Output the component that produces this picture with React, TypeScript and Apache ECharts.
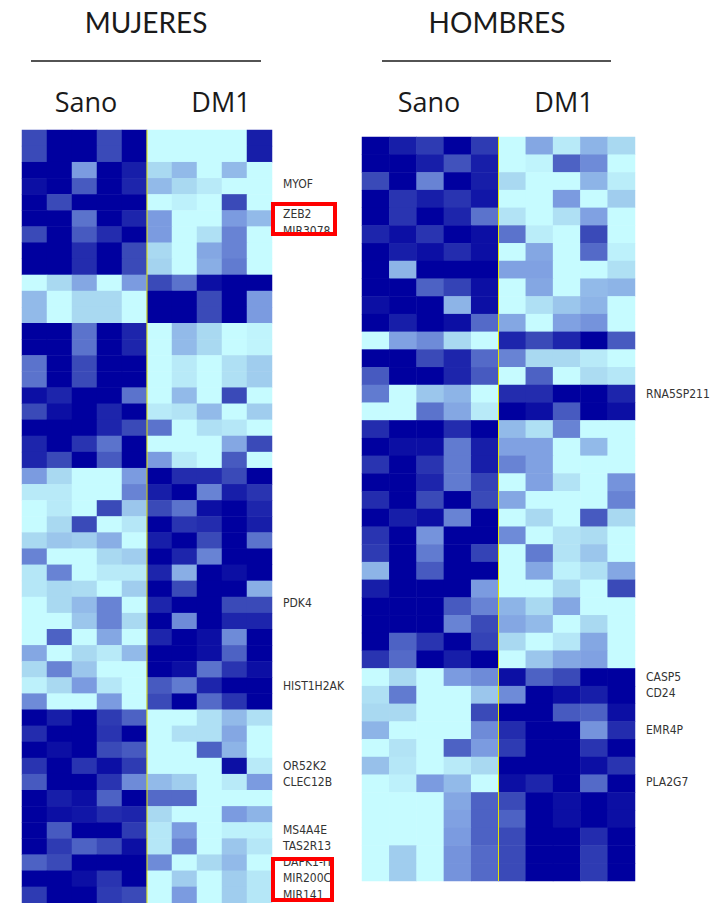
import React, { useEffect, useRef } from 'react';
import * as echarts from 'echarts';

// Column categories (5 healthy "Sano" samples + 5 DM1 samples)
const columns = ['S1', 'S2', 'S3', 'S4', 'S5', 'D1', 'D2', 'D3', 'D4', 'D5'];

// MUJERES heatmap, 48 genes (rows, top to bottom), values 0 (light) .. 4 (dark)
const mujeresSano = [
  [3, 4, 4, 3, 4], [3, 4, 4, 3, 4], [4, 4, 2, 4, 3.6], [3.8, 4, 2.8, 4, 3.5],
  [4, 3, 4, 4, 4], [4, 4, 2.5, 4, 3.5], [3, 4, 2.8, 3.4, 4], [4, 4, 3.4, 4, 3],
  [4, 4, 3.4, 4, 3], [0, 1, 1.8, 0, 2], [1.5, 0, 1, 1, 0], [1.5, 0, 1, 1, 0],
  [4, 4, 2.5, 4, 3.5], [4, 4, 2.5, 4, 3.5], [2.5, 4, 3, 4, 4], [2.5, 4, 3, 4, 4],
  [3.8, 3.5, 4, 4, 2.5], [3, 3.8, 4, 3.5, 4], [4, 4, 4, 3.5, 3], [3.5, 4, 3.3, 2.5, 4],
  [3.5, 3, 4, 2.8, 4], [2, 1, 0, 0, 2], [0.5, 0.5, 0, 0, 2.3], [0, 0.5, 0, 3, 1.3],
  [0, 1, 3, 0, 0.6], [1, 1.3, 1.2, 1.7, 0], [2.3, 0, 0, 1, 1.2], [0.6, 2.3, 0, 0.5, 0.5],
  [0.6, 1, 0.9, 0, 1.2], [0, 1, 1.5, 2.3, 0], [0, 0, 1.3, 2.3, 1], [0, 2.7, 0, 1.8, 0],
  [1.8, 0, 1, 0.5, 1.5], [1, 2.3, 1.3, 0, 0], [0.3, 1, 2, 0.6, 0], [2.2, 0, 0, 2, 0],
  [4, 3.6, 4, 3.2, 2.7], [3.4, 4, 4, 3.3, 4], [4, 3.8, 4, 3, 2.8], [3.3, 4, 3.3, 3.8, 3.2],
  [2.8, 4, 4, 3.3, 2.2], [4, 3.6, 3.8, 2.7, 4], [4, 3.8, 3.7, 3.4, 3.5], [4, 2.8, 4, 4, 3.2],
  [4, 3.2, 2.7, 3, 3.8], [2.7, 3, 4, 4, 4], [4, 4, 3.8, 3.3, 4], [3.2, 4, 4, 3.2, 3],
];
const mujeresDM1 = [
  [0, 0, 0, 0, 3.6], [0, 0, 0, 0, 3.6], [1, 1.5, 0, 1.5, 0], [1.5, 1, 0.5, 0, 0],
  [0, 0.3, 0, 3, 0], [2, 0, 0, 2, 1.5], [2, 0, 0.8, 2.3, 0], [1, 0, 1.8, 2.3, 0],
  [1.1, 0, 1.7, 2.4, 0], [3, 2.5, 3.8, 4, 4], [4, 4, 3, 4, 2], [4, 4, 3, 4, 2],
  [0, 1.5, 1, 0, 0.2], [0, 1.5, 1, 0, 0.2], [0, 0.5, 0, 0.8, 1.2], [0, 0.5, 0, 0.8, 1.2],
  [0, 1.5, 0, 3, 0], [0.5, 0.7, 1.5, 0, 1.2], [2.5, 0, 0.8, 0.6, 0], [0, 0, 0, 1.8, 3],
  [2, 0.5, 0, 2.8, 0], [4, 3.4, 3.4, 3, 4], [3.6, 4, 2.3, 3.6, 3.3], [3, 2.5, 3.8, 4, 3.5],
  [4, 3.3, 3.4, 4, 3.6], [3.6, 4, 3, 4, 2.5], [4, 3.5, 2.3, 4, 4], [3.5, 1.7, 4, 3.8, 4],
  [4, 3, 4, 4, 1.7], [3.5, 4, 4, 3, 3], [4, 2.2, 4, 3.5, 3.5], [3.5, 4, 3.8, 2.2, 4],
  [4, 4, 3.8, 2.7, 4], [4, 3.8, 2.5, 3.3, 3.8], [2.8, 2.4, 3.5, 4, 4], [3, 4, 2.6, 3.3, 4],
  [0, 0, 0.8, 1.5, 0.8], [0, 0.8, 0.8, 1.8, 0], [0, 0, 2.7, 1.6, 0], [0, 0, 0, 3.8, 0.5],
  [1.5, 1.2, 0, 0.5, 2], [2.6, 2.6, 0, 0, 0], [1, 0, 0, 2, 1.6], [0.6, 2, 0, 0.3, 0.3],
  [0.6, 2.3, 0, 1.3, 0.6], [2.2, 0, 1, 1.5, 0], [0, 1.2, 0, 1.2, 0.6], [0, 2, 0, 1.2, 0.6],
];

// HOMBRES heatmap, 42 genes
const hombresSano = [
  [4, 3.6, 3.2, 4, 3.2], [4, 4, 3.6, 2.9, 3.6], [3, 4, 2.3, 4, 3.6], [4, 3.3, 3.6, 3.3, 3.7],
  [4, 3.3, 4, 3.5, 2.5], [3.5, 3.8, 3.3, 4, 3.8], [4, 3.6, 3.8, 3.4, 3.8], [4, 1.6, 4, 4, 4],
  [4, 4, 2.7, 3.1, 3.8], [3.8, 4, 4, 1.6, 3.8], [4, 3.6, 4, 3.8, 2.6], [0, 1.9, 2.2, 1, 0],
  [4, 4, 3, 3.5, 2.6], [2.8, 4, 4, 3.5, 2.8], [2.4, 0, 1.3, 1.6, 0], [0, 0, 2.5, 1.8, 0.5],
  [3.4, 4, 4, 3.4, 4], [4, 3.8, 3.8, 2.4, 3.6], [3.3, 4, 3.3, 2.4, 3.6], [4, 4, 3.5, 2.4, 3.1],
  [3.4, 4, 3, 4, 3], [4, 3.6, 3.8, 2.3, 4], [3.3, 4, 2.1, 4, 4], [3.2, 4, 2.4, 4, 3.1],
  [1.6, 4, 2.8, 4, 4], [3.6, 4, 4, 4, 2], [4, 4, 4, 2.8, 2.3], [4, 4, 4, 2.3, 3],
  [4, 2.7, 3.3, 4, 3.1], [3.3, 2.6, 4, 3.6, 4], [0, 1, 0, 2, 2.2], [0.8, 2.4, 0, 0, 1.3],
  [1, 1, 0, 0, 3], [1.6, 0, 0, 0, 2.2], [0, 0.7, 0, 2.7, 2], [1.4, 0.6, 0, 0.5, 1],
  [0, 0.3, 2, 1.5, 0], [0, 0, 0, 1.8, 2.7], [0, 0, 0, 1.9, 2.7], [0, 0, 0, 2, 2.7],
  [0, 1.2, 0, 2.1, 2.6], [0, 1.2, 0, 2.1, 2.6],
];
const hombresDM1 = [
  [0, 1.8, 0.5, 1.6, 1], [0, 0.2, 2.7, 2.2, 0], [1, 0, 0, 1.6, 0.4], [0, 0, 2, 0, 1.2],
  [0.7, 0, 0.8, 1.9, 0], [2.5, 0.4, 0, 3, 0], [0, 1.8, 0, 2.6, 0.3], [1.9, 1.9, 0, 0, 0.8],
  [0, 1.8, 0, 1.5, 1.6], [0, 0.8, 1.3, 1.6, 0], [1.8, 0, 1.9, 2.1, 0], [3.5, 3, 3.5, 4, 2.8],
  [2.3, 1, 1, 0.5, 0], [0, 2.7, 0, 0.9, 0.6], [3.4, 3.4, 4, 4, 3.5], [4, 3.8, 2.8, 4, 3.8],
  [1.5, 0.8, 2.3, 0, 0], [1.9, 1.9, 0, 1.5, 0], [2.3, 1.9, 0, 0, 0], [0, 1.9, 0.7, 0, 2.1],
  [1.8, 0, 0, 0, 2.3], [0, 1, 0, 2.8, 1], [2.2, 0, 0.7, 0.9, 0], [0, 2.4, 0.7, 1.3, 0],
  [0, 1.8, 0.3, 0.8, 1.8], [0, 0, 1, 0, 3], [1.6, 1, 1.8, 0, 0], [1.8, 1.5, 0, 1, 0],
  [1, 0, 0.6, 1.8, 0], [0, 1.3, 1.8, 1.9, 0], [3.8, 2.7, 3, 4, 4], [2.2, 4, 3.8, 3.6, 4],
  [4, 4, 2.8, 2.7, 3.8], [3.4, 4, 4, 2.1, 3.4], [3.2, 4, 4, 3.3, 4], [4, 4, 4, 3.8, 3.3],
  [3.8, 3.5, 4, 2.6, 4], [3, 4, 3.8, 4, 3.8], [2.7, 4, 3.8, 4, 3.8], [3, 4, 4, 3.4, 4],
  [3, 4, 4, 3.2, 4], [3, 4, 4, 3.2, 4],
];

// Gene labels
const mujeresGenes = ['MYOF', 'ZEB2', 'MIR3078', 'PDK4', 'HIST1H2AK', 'OR52K2', 'CLEC12B', 'MS4A4E', 'TAS2R13', 'DAPK1-IT', 'MIR200C', 'MIR141'];
const hombresGenes = ['RNA5SP211', 'CASP5', 'CD24', 'EMR4P', 'PLA2G7'];
const panelTitles = ['MUJERES', 'HOMBRES'];
const groupNames = ['Sano', 'DM1'];

// ---- layout (pixels) ----
const GRIDS = [
  { left: 22, top: 130, width: 250, height: 773 },
  { left: 362, top: 137, width: 273, height: 744 },
];
const mujeresLabelY = [184, 214, 231, 603, 686, 766, 782, 830, 846, 862, 878, 895];
const hombresLabelY = [394, 677, 693, 730, 782];
const palette = ['#c6fbff', '#a9d9f1', '#7b9be0', '#3a4ab8', '#00009f'];

function toCells(sano: number[][], dm1: number[][]) {
  const out: number[][] = [];
  sano.forEach((row, r) => {
    const full = row.concat(dm1[r]);
    full.forEach((v, c) => out.push([c, r, v]));
  });
  return out;
}

export default function App() {
  const ref = useRef<HTMLDivElement>(null);
  useEffect(() => {
    if (!ref.current) return;
    const chart = echarts.init(ref.current, null, { renderer: 'svg' });
    const rowsM = mujeresSano.map((_, i) => 'm' + i);
    const rowsH = hombresSano.map((_, i) => 'h' + i);
    const capsFont = 'Lato, "Open Sans", sans-serif';
    const titleFont = '"Open Sans", "Noto Sans", sans-serif';
    const labelFont = '"Liberation Sans Narrow", "DejaVu Sans Condensed", "Liberation Sans", sans-serif';

    const graphics: any[] = [];
    const headerCx = [146, 497];
    const lineSpan = [[31, 261], [382, 611]];
    const groupCx = [[86, 221], [429, 564]];
    panelTitles.forEach((t, i) => {
      graphics.push({
        type: 'text', x: headerCx[i], y: 22,
        style: { text: t, fontSize: 28, fontFamily: capsFont, fontWeight: 'normal', fill: '#1a1a1a', align: 'center', verticalAlign: 'middle' },
      });
      graphics.push({
        type: 'line', shape: { x1: lineSpan[i][0], y1: 61, x2: lineSpan[i][1], y2: 61 },
        style: { stroke: '#1a1a1a', lineWidth: 1.3 },
      });
      groupNames.forEach((g, j) => {
        graphics.push({
          type: 'text', x: groupCx[i][j], y: 101,
          style: { text: g, fontSize: 27, fontFamily: titleFont, fill: '#1a1a1a', align: 'center', verticalAlign: 'middle' },
        });
      });
    });
    mujeresGenes.forEach((g, i) => {
      graphics.push({
        type: 'text', x: 283, y: mujeresLabelY[i], z: 10,
        style: { text: g, fontSize: 12, fontFamily: labelFont, fill: '#333333', align: 'left', verticalAlign: 'middle' },
      });
    });
    hombresGenes.forEach((g, i) => {
      graphics.push({
        type: 'text', x: 646, y: hombresLabelY[i], z: 10,
        style: { text: g, fontSize: 12, fontFamily: labelFont, fill: '#333333', align: 'left', verticalAlign: 'middle' },
      });
    });
    graphics.push({
      type: 'rect', z: 50, shape: { x: 273, y: 204, width: 62, height: 30 },
      style: { fill: 'none', stroke: '#ff0000', lineWidth: 4 },
    });
    graphics.push({
      type: 'rect', z: 50, shape: { x: 273, y: 859, width: 59, height: 41 },
      style: { fill: 'none', stroke: '#ff0000', lineWidth: 4 },
    });

    chart.setOption({
      animation: false,
      backgroundColor: '#ffffff',
      grid: GRIDS.map((g) => ({ ...g, containLabel: false })),
      xAxis: [0, 1].map((i) => ({ type: 'category', data: columns, gridIndex: i, show: false })),
      yAxis: [
        { type: 'category', data: rowsM, gridIndex: 0, inverse: true, show: false },
        { type: 'category', data: rowsH, gridIndex: 1, inverse: true, show: false },
      ],
      visualMap: {
        show: false, type: 'continuous', min: 0, max: 4, dimension: 2, seriesIndex: [0, 1],
        inRange: { color: palette },
      },
      series: [
        { type: 'heatmap', xAxisIndex: 0, yAxisIndex: 0, data: toCells(mujeresSano, mujeresDM1), itemStyle: { borderWidth: 0 }, emphasis: { disabled: true } },
        { type: 'heatmap', xAxisIndex: 1, yAxisIndex: 1, data: toCells(hombresSano, hombresDM1), itemStyle: { borderWidth: 0 }, emphasis: { disabled: true } },
      ],
      graphic: graphics,
    });

    // yellow dividers between Sano and DM1, from the axis scale
    const dividers: any[] = [];
    GRIDS.forEach((g, i) => {
      const a = chart.convertToPixel({ gridIndex: i } as any, [4, 0]) as number[];
      const b = chart.convertToPixel({ gridIndex: i } as any, [5, 0]) as number[];
      const x = (a[0] + b[0]) / 2;
      dividers.push({
        type: 'line', z: 20, shape: { x1: x, y1: g.top, x2: x, y2: g.top + g.height },
        style: { stroke: '#e6e600', lineWidth: 1 },
      });
    });
    chart.setOption({ graphic: graphics.concat(dividers) });

    return () => chart.dispose();
  }, []);
  return <div ref={ref} style={{ position: 'absolute', left: 0, top: 0, width: 710, height: 903 }} />;
}
